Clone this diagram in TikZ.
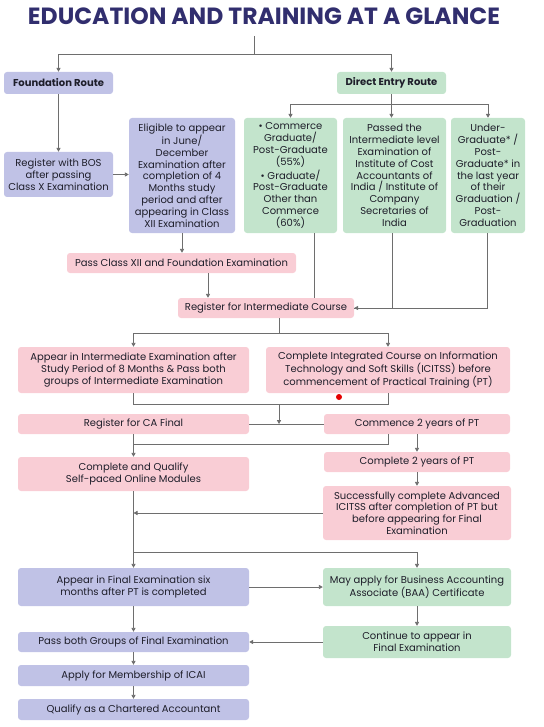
\documentclass[tikz,border=0pt]{standalone}
\usepackage{fontspec}
\usepackage{graphicx}
\setmainfont{Poppins}
\usetikzlibrary{arrows.meta}
\definecolor{lav}{HTML}{C0C2E6}
\definecolor{grn}{HTML}{C3E4CC}
\definecolor{pnk}{HTML}{F9CDD5}
\definecolor{ttl}{HTML}{312E6E}
\definecolor{txt}{HTML}{1E1E2A}
\definecolor{ln}{HTML}{6E6E6E}
\newcommand{\bx}[7]{%
  \pgfmathsetmacro\bxw{#3-#2}\pgfmathsetmacro\bxh{#5-#4}%
  \node[box,#6,minimum width=\bxw pt,minimum height=\bxh pt] (#1) at ({(#2+#3)/2},{(#4+#5)/2}) {#7};}
\tikzset{
  box/.style={rectangle,rounded corners=3pt,inner sep=0pt,align=center,text=txt,
    font=\fontsize{10}{11.8}\selectfont},
  lavbox/.style={fill=lav},
  grnbox/.style={fill=grn},
  pnkbox/.style={fill=pnk},
  conn/.style={draw=ln,line width=0.9pt},
  arr/.style={conn,-{Triangle[length=4pt,width=4.2pt]}},
}
\begin{document}
\begin{tikzpicture}[x=1pt,y=-1pt]
\useasboundingbox (0,0) rectangle (543,727);
\node[anchor=base,text=ttl,inner sep=0pt] (title) at (264,25)
  {\resizebox{472pt}{!}{\bfseries EDUCATION AND TRAINING AT A GLANCE}};
% boxes
\bx{found}{4}{113}{72}{94}{lavbox}{\bfseries Foundation Route}
\bx{direct}{337}{446}{72}{94}{grnbox}{\bfseries Direct Entry Route}
\bx{bos}{4}{113}{152}{197}{lavbox}{Register with BOS\\after passing\\Class X Examination}
\bx{elig}{129}{235}{118}{233}{lavbox}{Eligible to appear\\in June/\\December\\Examination after\\completion of 4\\Months study\\period and after\\appearing in Class\\XII Examination}
\bx{comm}{244}{337}{118}{233}{grnbox}{• Commerce\\Graduate/\\Post-Graduate\\(55\%)\\[2pt]• Graduate/\\Post-Graduate\\Other than\\Commerce\\(60\%)}
\bx{passed}{343}{446}{118}{233}{grnbox}{Passed the\\Intermediate level\\Examination of\\Institute of Cost\\Accountants of\\India / Institute of\\Company\\Secretaries of\\India}
\bx{under}{451}{525}{118}{233}{grnbox}{Under-\\Graduate* /\\Post-\\Graduate* in\\the last year\\of their\\Graduation /\\Post-\\Graduation}
\bx{passxii}{67}{296}{253}{273}{pnkbox}{Pass Class XII and Foundation Examination}
\bx{regint}{178}{354}{298}{318}{pnkbox}{Register for Intermediate Course}
\bx{appint}{18}{249}{347}{393}{pnkbox}{Appear in Intermediate Examination after\\Study Period of 8 Months \& Pass both\\groups of Intermediate Examination}
\bx{icitss}{266}{510}{347}{393}{pnkbox}{Complete Integrated Course on Information\\Technology and Soft Skills (ICITSS) before\\commencement of Practical Training (PT)}
\bx{regfin}{18}{249}{414}{434}{pnkbox}{Register for CA Final}
\bx{comm2}{324}{510}{414}{434}{pnkbox}{Commence 2 years of PT}
\bx{cq}{18}{249}{457}{491}{pnkbox}{Complete and Qualify\\Self-paced Online Modules}
\bx{comp2}{324}{510}{452}{472}{pnkbox}{Complete 2 years of PT}
\bx{succ}{323}{511}{486}{540}{pnkbox}{Successfully complete Advanced\\ICITSS after completion of PT but\\before appearing for Final\\Examination}
\bx{appfin}{18}{249}{568}{606}{lavbox}{Appear in Final Examination six\\months after PT is completed}
\bx{baa}{323}{511}{568}{606}{grnbox}{May apply for Business Accounting\\Associate (BAA) Certificate}
\bx{passboth}{18}{249}{632}{652}{lavbox}{Pass both Groups of Final Examination}
\bx{cont}{323}{511}{626}{658}{grnbox}{Continue to appear in\\Final Examination}
\bx{apply}{18}{249}{665}{686}{lavbox}{Apply for Membership of ICAI}
\bx{qual}{18}{249}{699}{720}{lavbox}{Qualify as a Chartered Accountant}
% junctions
\coordinate (t0) at (254,36);
\coordinate (t1) at (254,54);
\coordinate (d1) at (391.5,104);
\coordinate (j1) at (279,333);
\coordinate (j2) at (279,404);
\coordinate (j3) at (133.5,444);
\coordinate (j4) at (133.5,552);
% connectors
\draw[conn] (t0) -- (t1);
\draw[arr] (t1) -| (found.north);
\draw[arr] (t1) -| (direct.north);
\draw[conn] (direct.south) -- (d1);
\draw[arr] (d1) -| (comm.north);
\draw[arr] (d1) -| (under.north);
\draw[arr] (d1) -- (d1 |- passed.north);
\draw[arr] (found.south) -- (bos.north);
\draw[arr] (bos.east) -- (bos.east -| elig.west);
\draw[arr] (elig.south) -- (elig.south |- passxii.north);
\draw[arr] ([xshift=26.5pt]passxii.south) -- ([xshift=26.5pt]passxii.south |- regint.north);
\draw[conn] ([xshift=23.5pt]comm.south) -- ([xshift=23.5pt]comm.south |- regint.north);
\draw[conn] ([xshift=-2.5pt]passed.south) |- (regint.east);
\draw[arr] ([xshift=-1pt]under.south) |- (regint.east);
\draw[conn] ([xshift=13pt]regint.south) -- (j1);
\draw[arr] (j1) -| (appint.north);
\draw[arr] (j1) -| (icitss.north);
\draw[conn] (appint.south) |- (j2);
\draw[conn] (icitss.south) |- (j2);
\draw[conn] (regfin.east) -- (comm2.west);
\draw[arr] (j2) -- (j2 |- regfin.east);
\draw[arr] (regfin.south) -- (cq.north);
\draw[conn] ([xshift=-29pt]comm2.south) |- (j3);
\draw[arr] (comm2.south) -- (comp2.north);
\draw[arr] (comp2.south) -- (succ.north);
\draw[arr] (succ.west) -- (succ.west -| cq.south);
\draw[arr] (cq.south) -- (appfin.north);
\draw[arr] (j4) -| (baa.north);
\draw[arr] (appfin.east) -- (baa.west);
\draw[arr] (appfin.south) -- (passboth.north);
\draw[arr] (baa.south) -- (cont.north);
\draw[arr] (cont.west) -- (passboth.east);
\draw[arr] (passboth.south) -- (apply.north);
\draw[arr] (apply.south) -- (qual.north);
\fill[red!90!black] (339,397) circle (3pt);
\end{tikzpicture}
\end{document}
